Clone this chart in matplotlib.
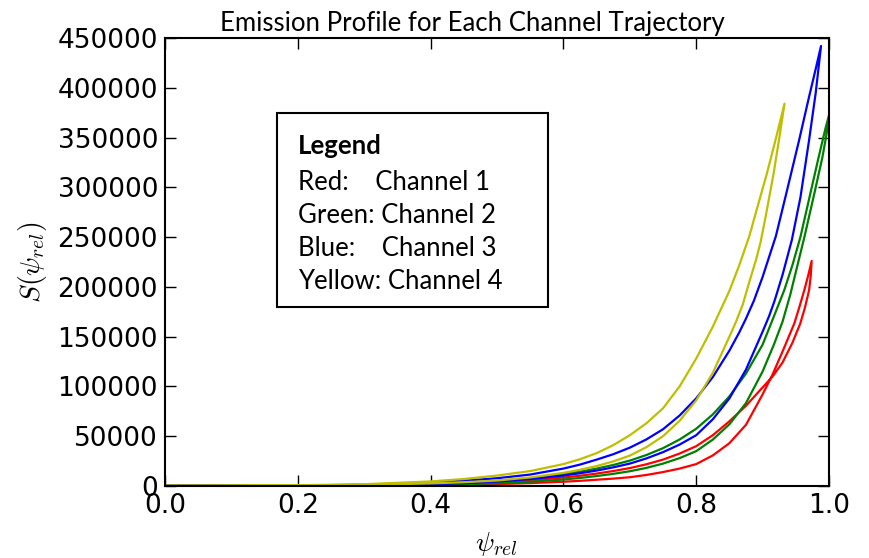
import matplotlib.pyplot as plt
from matplotlib.patches import Rectangle

plt.rcParams['font.family'] = 'DejaVu Sans'
plt.rcParams['mathtext.fontset'] = 'cm'

# Channel 1 (red): rising branch, then the return branch from the peak
ch1_psi_up = [0, 0.1, 0.2, 0.3, 0.4, 0.45, 0.5, 0.55, 0.6, 0.625, 0.65, 0.675, 0.7, 0.725, 0.75, 0.775,
              0.8, 0.825, 0.85, 0.875, 0.9, 0.915, 0.93, 0.945, 0.9567, 0.9635, 0.970, 0.9725, 0.9739]
ch1_s_up = [40, 90, 200, 550, 1400, 2300, 3800, 5700, 8500, 10300, 12500, 15000, 18000, 21800, 26500, 32600,
            40000, 51000, 65000, 80600, 99000, 110000, 124000, 144000, 163200, 178500, 196700, 211000, 226100]
ch1_psi_down = [0.9739, 0.9685, 0.9628, 0.9555, 0.9477, 0.93, 0.915, 0.9, 0.875, 0.85, 0.825, 0.8, 0.775,
                0.75, 0.725, 0.7, 0.675, 0.65, 0.625, 0.6, 0.55, 0.5, 0.45, 0.4, 0.3, 0.2, 0.1, 0]
ch1_s_down = [226100, 211000, 196700, 180000, 163200, 135000, 112000, 92000, 61500, 43000, 30700, 22000, 17500,
              14000, 11100, 8800, 7400, 6300, 5200, 4300, 2900, 1900, 1200, 700, 260, 100, 45, 20]

# Channel 2 (green), its peak lies just past psi = 1
ch2_psi_up = [0, 0.1, 0.2, 0.3, 0.4, 0.45, 0.5, 0.55, 0.6, 0.625, 0.65, 0.675, 0.7, 0.725, 0.75, 0.775,
              0.8, 0.825, 0.85, 0.875, 0.9, 0.915, 0.9326, 0.945, 0.957, 0.973, 0.985, 0.995, 1.003]
ch2_s_up = [50, 110, 250, 700, 1800, 3000, 5000, 7700, 11800, 14400, 17500, 21100, 25500, 31100, 38000, 46700,
            57500, 71900, 90000, 113000, 142000, 167000, 196700, 222000, 250200, 297000, 332000, 360000, 380000]
ch2_psi_down = [1.003, 0.997, 0.99, 0.979, 0.963, 0.9416, 0.93, 0.917, 0.9, 0.875, 0.85, 0.825, 0.8, 0.775,
                0.75, 0.725, 0.7, 0.675, 0.65, 0.625, 0.6, 0.55, 0.5, 0.45, 0.4, 0.3, 0.2, 0.1, 0]
ch2_s_down = [380000, 356000, 330000, 297000, 250200, 192000, 165000, 142000, 115000, 83300, 62000, 46600,
              35000, 28000, 22500, 18200, 14800, 12200, 10000, 8100, 6500, 4300, 2800, 1700, 1000, 400, 150, 70, 30]

# Channel 3 (blue)
ch3_psi_up = [0, 0.1, 0.2, 0.3, 0.4, 0.45, 0.5, 0.55, 0.6, 0.625, 0.65, 0.675, 0.7, 0.725, 0.75, 0.775,
              0.8, 0.825, 0.85, 0.865, 0.875, 0.887, 0.9, 0.92, 0.935, 0.955, 0.97, 0.98, 0.988]
ch3_s_up = [100, 220, 500, 1300, 3500, 5300, 7800, 11500, 17500, 21500, 26500, 31900, 38500, 46800, 57000,
            70800, 88000, 109400, 136000, 154500, 168200, 186300, 210000, 251000, 292000, 347400, 391000,
            419000, 442000]
ch3_psi_down = [0.988, 0.98, 0.97, 0.957, 0.944, 0.93, 0.918, 0.91, 0.9, 0.875, 0.85, 0.825, 0.8, 0.775,
                0.75, 0.725, 0.7, 0.675, 0.65, 0.625, 0.6, 0.55, 0.5, 0.45, 0.4, 0.3, 0.2, 0.1, 0]
ch3_s_down = [442000, 395000, 347400, 290000, 247000, 212000, 186000, 171000, 155000, 117000, 88000, 67000,
              51000, 41600, 34000, 27700, 22500, 18700, 15500, 12800, 10500, 7000, 4500, 2900, 1800, 700, 250,
              100, 50]

# Channel 4 (yellow)
ch4_psi_up = [0, 0.1, 0.2, 0.3, 0.4, 0.45, 0.5, 0.55, 0.6, 0.625, 0.65, 0.675, 0.7, 0.725, 0.75, 0.775,
              0.8, 0.825, 0.85, 0.865, 0.88, 0.893, 0.9065, 0.92, 0.933]
ch4_s_up = [150, 350, 800, 1800, 4600, 7000, 10500, 15000, 22000, 26900, 33000, 41000, 51000, 63000, 78000,
            100000, 128000, 160000, 196000, 222000, 251000, 282000, 314000, 349000, 384000]
ch4_psi_down = [0.933, 0.925, 0.9166, 0.905, 0.897, 0.89, 0.88, 0.87, 0.86, 0.85, 0.825, 0.8, 0.775, 0.75,
                0.725, 0.7, 0.675, 0.65, 0.625, 0.6, 0.55, 0.5, 0.45, 0.4, 0.3, 0.2, 0.1, 0]
ch4_s_down = [384000, 349000, 314000, 272000, 245000, 227000, 205000, 182000, 165000, 150000, 113600, 86000,
              65500, 50000, 39000, 30500, 24700, 20000, 16300, 13200, 8600, 5500, 3800, 2600, 1100, 450, 220, 100]

channels = [
    (ch1_psi_up + ch1_psi_down, ch1_s_up + ch1_s_down, 'r'),
    (ch2_psi_up + ch2_psi_down, ch2_s_up + ch2_s_down, 'g'),
    (ch3_psi_up + ch3_psi_down, ch3_s_up + ch3_s_down, 'b'),
    (ch4_psi_up + ch4_psi_down, ch4_s_up + ch4_s_down, (0.75, 0.75, 0)),
]

legend_lines = ['Red:    Channel 1', 'Green: Channel 2', 'Blue:    Channel 3', 'Yellow: Channel 4']

x_ticks = [0.0, 0.2, 0.4, 0.6, 0.8, 1.0]
y_ticks = [0, 50000, 100000, 150000, 200000, 250000, 300000, 350000, 400000, 450000]

fig = plt.figure(figsize=(8.69, 5.58), dpi=100, facecolor='white')
ax = fig.add_axes([165 / 869, 72 / 558, 664 / 869, 448 / 558])

for psi, s, color in channels:
    ax.plot(psi, s, color=color, linewidth=1.6)

ax.set_xlim(0, 1)
ax.set_ylim(0, 450000)
ax.set_xticks(x_ticks)
ax.set_xticklabels(['%.1f' % t for t in x_ticks])
ax.set_yticks(y_ticks)
ax.set_yticklabels([str(t) for t in y_ticks])
ax.tick_params(direction='in', length=8, width=1, top=True, right=True, labelsize=19, pad=5)
for spine in ax.spines.values():
    spine.set_linewidth(1.5)

ax.set_title('Emission Profile for Each Channel Trajectory', fontsize=18.5, family='Lato',
             x=(472 - 165) / 664, pad=5)
ax.set_xlabel(r'$\psi_{rel}$', fontsize=20, labelpad=8)
ax.set_ylabel(r'$S(\psi_{rel})$', fontsize=20, labelpad=6)

# text box with the colour key
ax.add_patch(Rectangle(((277 - 165) / 664, (486 - 307) / 448), 271 / 664, 194 / 448,
                       transform=ax.transAxes, facecolor='white', edgecolor='black',
                       linewidth=1.5, zorder=5))
ax.text((298 - 165) / 664, (486 - 146) / 448, 'Legend', transform=ax.transAxes,
        family='Lato', fontsize=18.5, fontweight='bold', va='center', zorder=6)
for i, line in enumerate(legend_lines):
    ax.text((298 - 165) / 664, (486 - 182 - 33.2 * i) / 448, line, transform=ax.transAxes,
            family='Lato', fontsize=18.5, va='center', zorder=6)

fig.savefig('out.png', dpi=100, facecolor='white')
